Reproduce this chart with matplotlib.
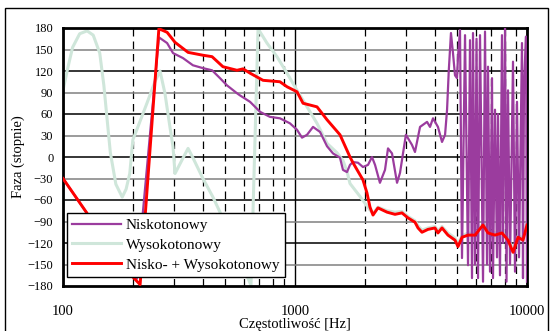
import matplotlib
matplotlib.use('Agg')
import matplotlib.pyplot as plt
from matplotlib.patches import Rectangle
from matplotlib.ticker import FixedLocator, NullFormatter

plt.rcParams['font.family'] = ['Liberation Serif', 'DejaVu Serif']

# faza (Hz, stopnie)
nisko_f = [100, 126, 160, 190, 208, 259, 281, 298, 329, 363,
           401, 439, 475, 509, 562, 579, 640, 707, 780, 861,
           951, 1020, 1072, 1127, 1196, 1244, 1282, 1374, 1458, 1563,
           1610, 1675, 1726, 1778, 1869, 1963, 2064, 2147, 2213, 2323,
           2443, 2517, 2619, 2753, 2836, 3006, 3192, 3290, 3459, 3708,
           3819, 3935, 4132, 4302, 4434, 4523, 4600, 4702, 4797, 4894,
           4992, 5042, 5143, 5246, 5406, 5569, 5680, 5794, 5851, 5967,
           6060, 6150, 6273, 6463, 6592, 6725, 6792, 6928, 7066, 7136,
           7278, 7424, 7499, 7648, 7800, 7883, 8041, 8160, 8283, 8449,
           8703, 8878, 9055, 9237, 9515, 9610, 9705, 9901, 10000]
nisko_p = [-30, -77, -128, -158, -170, 167, 159, 145, 138, 128,
           124, 121, 110, 100, 89, 86, 77, 63, 56, 54,
           47, 38, 27, 31, 42, 38, 35, 15, 5, -1,
           -18, -21, -11, -7, -8, -14, -11, 0, -11, -36,
           -18, 12, 5, -36, -22, 31, 17, 7, 42, 49,
           42, 54, 42, 21, 31, 66, 120, 173, 145, 114,
           110, 140, 177, -141, 170, -151, 163, -169, 173, -150,
           165, -169, 170, -174, 175, -150, 126, -160, 110, -169,
           66, -140, 60, -165, 170, -120, 180, -174, 93, -150,
           133, -160, 77, -140, 159, -169, 100, 168, -174]

wysoko_f = [100, 105, 110, 118, 127, 135, 144, 150, 155, 160,
            169, 180, 187, 194, 200, 208, 230, 249, 262, 275,
            289, 298, 304, 326, 346, 363, 401, 443, 475, 557,
            646, 693, 757, 836, 924, 1020, 1127, 1244, 1374, 1517,
            1610, 1675, 1726, 1906, 2105, 2169, 2278, 2494, 2698, 2891,
            3070, 3290, 3390, 3526, 3743, 4011, 4132, 4302, 4563, 4893,
            5043, 5248, 5570, 5970, 6460, 6792, 7278, 7800, 8280, 8710,
            9150, 9610, 10000]
wysoko_p = [93, 125, 153, 172, 176, 170, 145, 100, 52, 6,
            -38, -56, -45, -23, 24, 38, 75, 105, 120, 89,
            42, 14, -23, -4, 12, -1, -30, -56, -77, -130,
            -179, 179, 159, 140, 117, 93, 70, 47, 19, 6,
            -5, -20, -37, -55, -74, -79, -70, -75, -77, -76,
            -83, -89, -96, -102, -99, -97, -103, -97, -106, -113,
            -121, -110, -106, -107, -93, -103, -106, -104, -113, -129,
            -110, -113, -92]

suma_f = [100, 126, 160, 190, 215, 259, 281, 304, 346, 401,
          439, 489, 562, 597, 640, 728, 861, 924, 1020, 1083,
          1244, 1374, 1563, 1726, 1778, 1963, 2042, 2105, 2169, 2278,
          2494, 2698, 2891, 3070, 3290, 3390, 3526, 3743, 4011, 4132,
          4302, 4563, 4893, 5043, 5248, 5570, 5970, 6460, 6792, 7278,
          7800, 8280, 8710, 9150, 9610, 10000]
suma_p = [-30, -77, -128, -160, -178, 179, 174, 160, 146, 142,
          140, 126, 121, 123, 117, 107, 105, 98, 91, 75,
          70, 52, 31, 0, -8, -32, -50, -70, -81, -71,
          -77, -80, -78, -85, -91, -99, -105, -101, -99, -106,
          -99, -109, -116, -125, -112, -109, -109, -95, -106, -109,
          -106, -116, -133, -112, -116, -95]

y_ticks = list(range(-180, 181, 30))
x_major = [100, 1000, 10000]
x_minor = [200, 300, 400, 500, 600, 700, 800, 900,
           2000, 3000, 4000, 5000, 6000, 7000, 8000, 9000]

fig = plt.figure(figsize=(5.5, 3.31), dpi=100)
ax = fig.add_axes([63 / 550, 1 - 286 / 331, 464 / 550, 258 / 331])

ax.plot(nisko_f, nisko_p, color='#9b3c9e', lw=1.6, label='Niskotonowy', zorder=3)
ax.plot(wysoko_f, wysoko_p, color='#cfe6da', lw=2.2, label='Wysokotonowy', zorder=2)
ax.plot(suma_f, suma_p, color='#ff0000', lw=2.1, label='Nisko- + Wysokotonowy', zorder=4)

ax.set_xscale('log')
ax.set_xlim(100, 10000)
ax.set_ylim(-180, 180)
ax.set_yticks(y_ticks)
ax.set_xticks(x_major)
ax.set_xticklabels([str(v) for v in x_major])
ax.xaxis.set_minor_locator(FixedLocator(x_minor))
ax.xaxis.set_minor_formatter(NullFormatter())
ax.yaxis.set_minor_locator(FixedLocator([]))
ax.tick_params(axis='both', which='both', length=0)
ax.tick_params(axis='y', labelsize=9, pad=7)
ax.tick_params(axis='x', labelsize=10.5, pad=14)

ax.set_axisbelow(True)
for y in y_ticks[1:-1]:
    ax.axhline(y, color='black' if y % 60 == 0 else '#808080', lw=1.1, zorder=1)
ax.grid(True, axis='x', which='major', color='black', lw=1.0)
ax.grid(True, axis='x', which='minor', color='black', lw=0.9, linestyle=(0, (6, 4)))

for s in ax.spines.values():
    s.set_linewidth(2)

ax.set_xlabel('Częstotliwość [Hz]', fontsize=10.5, labelpad=0)
ax.set_ylabel('Faza (stopnie)', fontsize=10.5, labelpad=2)

leg = ax.legend(loc='lower left', bbox_to_anchor=(0.0086, 0.035), borderaxespad=0,
                fontsize=11, fancybox=False, edgecolor='black', framealpha=1,
                handlelength=3.2, handletextpad=0.3, labelspacing=0.4, borderpad=0.35)
leg.get_frame().set_linewidth(1)

fig.patches.append(Rectangle((5 / 550, -0.02), 543 / 550, 1 - 8 / 331 + 0.02,
                             transform=fig.transFigure, fill=False,
                             edgecolor='black', lw=1))

fig.savefig('out.png', dpi=100)
